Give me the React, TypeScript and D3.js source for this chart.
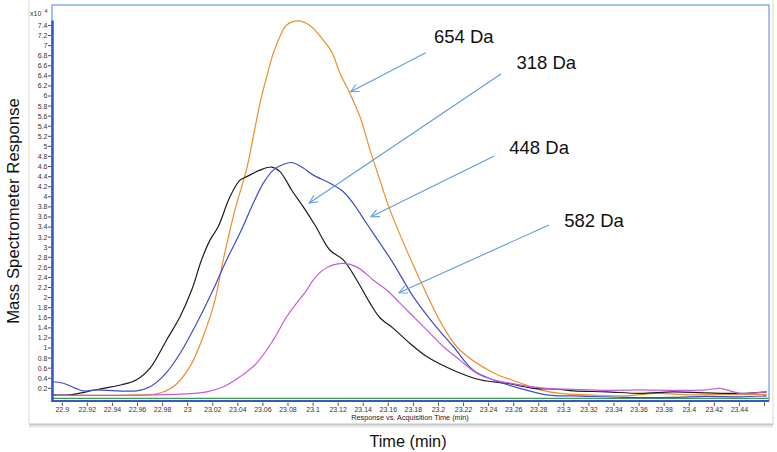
import React from "react";
import * as d3 from "d3";

// ---- data (time in min, response in x10^4) ----
const t318 = [22.8928, 22.906, 22.919, 22.9327, 22.9474, 22.9593, 22.97, 22.9832, 22.9939, 23.0032, 23.0111, 23.0178, 23.0244, 23.0337, 23.0417, 23.047, 23.0577, 23.067, 23.0736, 23.083, 23.0922, 23.1015, 23.1135, 23.1241, 23.1348, 23.1454, 23.1533, 23.164, 23.1773, 23.1906, 23.2118, 23.2331, 23.2544, 23.2756, 23.2969, 23.3075, 23.334, 23.3607, 23.3872, 23.4139, 23.4404, 23.4617];
const v318 = [0.07, 0.07, 0.13, 0.2, 0.27, 0.37, 0.6, 1.16, 1.62, 2.15, 2.75, 3.14, 3.41, 4.0, 4.33, 4.4, 4.53, 4.59, 4.5, 4.13, 3.8, 3.44, 2.94, 2.75, 2.35, 1.89, 1.6, 1.39, 1.09, 0.83, 0.56, 0.37, 0.3, 0.2, 0.18, 0.15, 0.13, 0.1, 0.13, 0.11, 0.1, 0.13];

const t448 = [22.8916, 22.9008, 22.9167, 22.9274, 22.9434, 22.9593, 22.97, 22.982, 22.9939, 23.0072, 23.0191, 23.0311, 23.0417, 23.0523, 23.0603, 23.0683, 23.076, 23.083, 23.0922, 23.1002, 23.1135, 23.1241, 23.132, 23.1427, 23.1533, 23.164, 23.1799, 23.1959, 23.2118, 23.2278, 23.2437, 23.265, 23.2863, 23.297, 23.3075, 23.3474, 23.3872, 23.4139, 23.4404, 23.4617];
const v448 = [0.33, 0.3, 0.15, 0.17, 0.15, 0.15, 0.23, 0.48, 0.89, 1.49, 2.09, 2.75, 3.28, 3.87, 4.27, 4.53, 4.64, 4.68, 4.57, 4.43, 4.27, 4.1, 3.87, 3.47, 3.08, 2.68, 2.02, 1.49, 1.03, 0.56, 0.37, 0.2, 0.07, 0.05, 0.05, 0.02, 0.02, 0.04, 0.03, 0.05];

const t654 = [22.8918, 22.93, 22.96, 22.9753, 22.9885, 23.0018, 23.0152, 23.0218, 23.0284, 23.0377, 23.047, 23.0523, 23.0577, 23.063, 23.0683, 23.0736, 23.079, 23.0882, 23.0975, 23.1081, 23.1148, 23.1215, 23.1294, 23.1374, 23.1454, 23.1533, 23.1613, 23.1853, 23.2038, 23.2171, 23.2437, 23.265, 23.281, 23.297, 23.321, 23.3474, 23.374, 23.4006, 23.4272, 23.4617];
const v654 = [0.06, 0.06, 0.07, 0.09, 0.23, 0.63, 1.42, 1.95, 2.75, 3.74, 4.55, 5.19, 5.86, 6.38, 6.85, 7.18, 7.41, 7.49, 7.4, 7.11, 6.88, 6.45, 6.05, 5.59, 4.93, 4.33, 3.74, 2.35, 1.42, 0.96, 0.51, 0.31, 0.17, 0.1, 0.07, 0.05, 0.1, 0.07, 0.08, 0.08];

const t582 = [22.8918, 22.93, 22.96, 22.9753, 22.9984, 23.0152, 23.0284, 23.0417, 23.055, 23.0683, 23.0789, 23.0869, 23.0949, 23.1002, 23.1081, 23.1161, 23.1241, 23.1348, 23.148, 23.1587, 23.1693, 23.1773, 23.1906, 23.2038, 23.2171, 23.2305, 23.2437, 23.265, 23.2863, 23.3075, 23.334, 23.3607, 23.3872, 23.4139, 23.4245, 23.4404, 23.4617];
const v582 = [0.06, 0.06, 0.06, 0.07, 0.09, 0.13, 0.23, 0.43, 0.7, 1.16, 1.62, 1.89, 2.15, 2.35, 2.55, 2.65, 2.68, 2.61, 2.35, 2.15, 1.89, 1.69, 1.36, 1.03, 0.76, 0.5, 0.37, 0.27, 0.2, 0.18, 0.16, 0.17, 0.16, 0.17, 0.2, 0.1, 0.13];

const tBase = [22.8918, 23.4635];
const vBase = [0, 0];

const xTicks = [22.9, 22.92, 22.94, 22.96, 22.98, 23, 23.02, 23.04, 23.06, 23.08, 23.1, 23.12, 23.14, 23.16, 23.18, 23.2, 23.22, 23.24, 23.26, 23.28, 23.3, 23.32, 23.34, 23.36, 23.38, 23.4, 23.42, 23.44, 23.46];
const xTickLabels = ["22.9", "22.92", "22.94", "22.96", "22.98", "23", "23.02", "23.04", "23.06", "23.08", "23.1", "23.12", "23.14", "23.16", "23.18", "23.2", "23.22", "23.24", "23.26", "23.28", "23.3", "23.32", "23.34", "23.36", "23.38", "23.4", "23.42", "23.44", ""];
const yTicks = [0.2, 0.4, 0.6, 0.8, 1, 1.2, 1.4, 1.6, 1.8, 2, 2.2, 2.4, 2.6, 2.8, 3, 3.2, 3.4, 3.6, 3.8, 4, 4.2, 4.4, 4.6, 4.8, 5, 5.2, 5.4, 5.6, 5.8, 6, 6.2, 6.4, 6.6, 6.8, 7, 7.2, 7.4];

// annotations: label, label anchor (t, v), arrow tail (t, v), arrow head (t, v)
const annLabels = ["654 Da", "318 Da", "448 Da", "582 Da"];
const annLabelT = [23.1964, 23.2622, 23.2565, 23.3003];
const annLabelV = [7.042, 6.53, 4.849, 3.407];
const annTailT = [23.1898, 23.2498, 23.2445, 23.2881];
const annTailV = [6.859, 6.437, 4.81, 3.44];
const annHeadT = [23.13, 23.097, 23.1462, 23.1685];
const annHeadV = [6.085, 3.877, 3.605, 2.097];

const FONT = "'Liberation Sans', Arial, Helvetica, sans-serif";

export default function App() {
  const W = 777, H = 452;
  const x = d3.scaleLinear().domain([22.8918, 23.4636]).range([52, 769]);
  const y = d3.scaleLinear().domain([0, 7.5]).range([398.4, 20.4]);

  const line = d3
    .line<[number, number]>()
    .x((d) => x(d[0]))
    .y((d) => y(d[1]))
    .curve(d3.curveCatmullRom.alpha(0.5));

  const mk = (ts: number[], vs: number[]) => line(ts.map((t, i) => [t, vs[i]] as [number, number])) || "";

  const series = [
    { d: mk(tBase, vBase), c: "#3f9e3f" },
    { d: mk(t654, v654), c: "#f08c2c" },
    { d: mk(t318, v318), c: "#1c1c1c" },
    { d: mk(t448, v448), c: "#3d4ccb" },
    { d: mk(t582, v582), c: "#c35cdc" },
  ];

  const axisBlue = "#3557c8";
  const frameBlue = "#6c98e6";
  const arrowColor = "#5e9be0";
  const xAxisY = 401;

  return (
    <div style={{ position: "absolute", left: 0, top: 0 }}>
      <svg width={W} height={H} style={{ display: "block", background: "#fff" }}>
        {/* outer panel */}
        <line x1={29} y1={0} x2={29} y2={424} stroke="#d6d6d6" strokeWidth={1} />
        <line x1={773} y1={0} x2={773} y2={424} stroke="#d6d6d6" strokeWidth={1} />
        <line x1={29} y1={424.5} x2={773} y2={424.5} stroke="#c4c4c4" strokeWidth={2} />
        <line x1={29} y1={426.5} x2={773} y2={426.5} stroke="#e6e6e6" strokeWidth={2} />

        {/* plot frame */}
        <rect x={52} y={5} width={717} height={xAxisY - 5} fill="none" stroke={frameBlue} strokeWidth={1.2} />

        {/* series */}
        {series.map((s, i) => (
          <path key={i} d={s.d} fill="none" stroke={s.c} strokeWidth={1.2} />
        ))}

        {/* y axis */}
        <line x1={52.5} y1={y(7.5)} x2={52.5} y2={xAxisY + 1} stroke={axisBlue} strokeWidth={2.5} />
        {yTicks.map((v, i) => (
          <g key={"y" + i}>
            <line x1={48} x2={51} y1={y(v)} y2={y(v)} stroke="#555" strokeWidth={1} />
            <text x={47.5} y={y(v)} dy="0.35em" textAnchor="end" fontFamily={FONT} fontSize={7} fill="#333">
              {String(+v.toFixed(1))}
            </text>
          </g>
        ))}
        <text x={30} y={16} fontFamily={FONT} fontSize={7} fill="#333">x10</text>
        <text x={44.5} y={12.5} fontFamily={FONT} fontSize={5.5} fill="#333">4</text>

        {/* x axis */}
        <line x1={52} y1={xAxisY} x2={769} y2={xAxisY} stroke={axisBlue} strokeWidth={2} />
        {xTicks.map((t, i) => (
          <g key={"x" + i}>
            <line x1={x(t)} x2={x(t)} y1={402.5} y2={406} stroke="#555" strokeWidth={1} />
            <text x={x(t)} y={411.5} textAnchor="middle" fontFamily={FONT} fontSize={7} fill="#333">
              {xTickLabels[i]}
            </text>
          </g>
        ))}
        <text x={410} y={419.5} textAnchor="middle" fontFamily={FONT} fontSize={7.3} fill="#222">
          Response vs. Acquisition Time (min)
        </text>

        {/* annotations */}
        {annLabels.map((lab, i) => {
          const hx = x(annHeadT[i]), hy = y(annHeadV[i]);
          const tx = x(annTailT[i]), ty = y(annTailV[i]);
          const ang = Math.atan2(ty - hy, tx - hx);
          const L = 9, spread = 0.45;
          const a1x = hx + L * Math.cos(ang + spread), a1y = hy + L * Math.sin(ang + spread);
          const a2x = hx + L * Math.cos(ang - spread), a2y = hy + L * Math.sin(ang - spread);
          return (
            <g key={"a" + i}>
              <line x1={tx} y1={ty} x2={hx} y2={hy} stroke={arrowColor} strokeWidth={1.1} />
              <polyline points={`${a1x},${a1y} ${hx},${hy} ${a2x},${a2y}`} fill="none" stroke={arrowColor} strokeWidth={1.1} />
              <text x={x(annLabelT[i])} y={y(annLabelV[i])} fontFamily={FONT} fontSize={18.5} fill="#111">
                {lab}
              </text>
            </g>
          );
        })}

        {/* axis titles */}
        <text
          transform={`translate(19,211) rotate(-90)`}
          textAnchor="middle"
          fontFamily={FONT}
          fontSize={16.8}
          fill="#111"
        >
          Mass Spectrometer Response
        </text>
        <text x={408} y={447} textAnchor="middle" fontFamily={FONT} fontSize={16.3} fill="#111">
          Time (min)
        </text>
      </svg>
    </div>
  );
}
